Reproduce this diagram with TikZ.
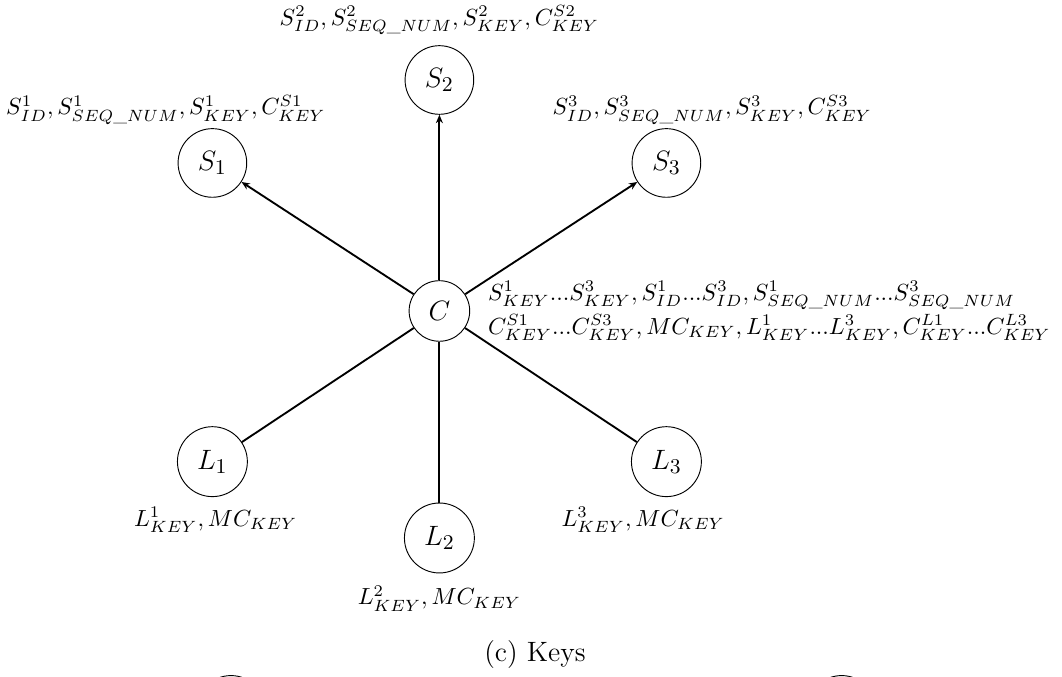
\documentclass[tikz,border=0pt]{standalone}
\usepackage{amsmath,amssymb}
\usepackage{tikz}
\usetikzlibrary{arrows.meta,positioning}

\begin{document}
\begin{tikzpicture}[
    party/.style={circle, draw=black, thin, inner sep=4.8pt, font=\fontsize{13.2}{15}\selectfont},
    keylabel/.style={font=\normalsize, inner sep=1pt},
    sendarrow/.style={-{Stealth[length=3.6pt, width=3pt]}, thick},
    link/.style={thick}
]
    \useasboundingbox (-6.62,-5.514) rectangle (9.38,4.685);

    % Controller
    \node[party] (c) at (0,0) {$C$};

    % Sensors
    \node[party] (s1) at (-3.42,2.23) {$S_1$};
    \node[party] (s2) at (0,3.48) {$S_2$};
    \node[party] (s3) at (3.42,2.23) {$S_3$};

    % Actuators
    \node[party] (l1) at (-3.42,-2.27) {$L_1$};
    \node[party] (l2) at (0,-3.42) {$L_2$};
    \node[party] (l3) at (3.42,-2.27) {$L_3$};

    % next row, cut off by the page
    \node[party] (n1) at (-3.14,-6.01) {\phantom{$S_1$}};
    \node[party] (n2) at (6.06,-6.01) {\phantom{$S_1$}};

    % Connections
    \foreach \s in {s1,s2,s3} \draw[sendarrow] (c) -- (\s);
    \foreach \l in {l1,l2,l3} \draw[link] (c) -- (\l);

    % Keys held by each party
    \node[keylabel] (ks1) at (-4.12,3.03) {$S^1_{ID}, S^1_{SEQ\_NUM}, S^1_{KEY}, C^{S1}_{KEY}$};
    \node[keylabel] (ks2) at (0,4.38) {$S^2_{ID}, S^2_{SEQ\_NUM}, S^2_{KEY}, C^{S2}_{KEY}$};
    \node[keylabel] (ks3) at (4.11,3.03) {$S^3_{ID}, S^3_{SEQ\_NUM}, S^3_{KEY}, C^{S3}_{KEY}$};
    \node[keylabel, anchor=west, align=left] (kc) at (0.69,0) {$S^1_{KEY}...S^3_{KEY}, S^1_{ID}...S^3_{ID}, S^1_{SEQ\_NUM}...S^3_{SEQ\_NUM}$\\[1pt]
        $C^{S1}_{KEY}...C^{S3}_{KEY}, MC_{KEY}, L^1_{KEY}...L^3_{KEY}, C^{L1}_{KEY}...C^{L3}_{KEY}$};
    \node[keylabel] (kl1) at (-3.37,-3.15) {$L^1_{KEY}, MC_{KEY}$};
    \node[keylabel] (kl2) at (0,-4.33) {$L^2_{KEY}, MC_{KEY}$};
    \node[keylabel] (kl3) at (3.07,-3.15) {$L^3_{KEY}, MC_{KEY}$};

    \node[font=\large] (cap) at (1.44,-5.17) {(c) Keys};
\end{tikzpicture}
\end{document}
